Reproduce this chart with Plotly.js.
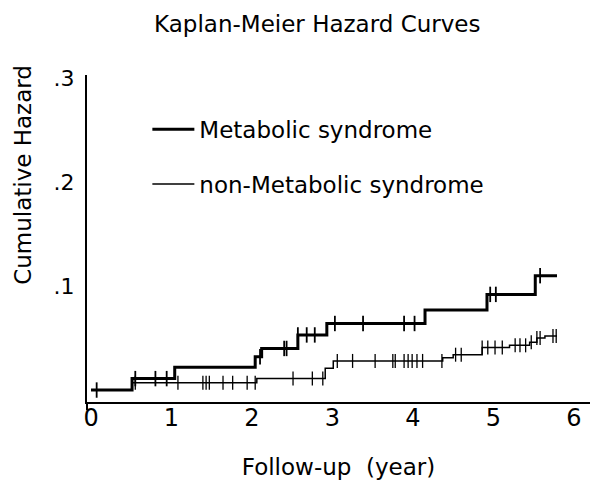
<!DOCTYPE html>
<html>
<head>
<meta charset="utf-8">
<script src="https://cdn.plot.ly/plotly-3.0.1.min.js"></script>
<style>html,body{margin:0;padding:0;background:#fff;}#chart{width:592px;height:480px;}</style>
</head>
<body>
<div id="chart"></div>
<script>
// Step curves (time in years, cumulative hazard)
var metsTimes  = [0, 0.51, 1.04, 2.04, 2.12, 2.57, 2.93, 4.15, 4.92, 5.52, 5.79];
var metsHazard = [0, 0.011, 0.022, 0.032, 0.040, 0.053, 0.064, 0.077, 0.092, 0.110, 0.110];
var nonTimes   = [0, 0.51, 2.06, 2.91, 3.01, 4.37, 4.50, 4.86, 5.20, 5.45, 5.54, 5.64, 5.79];
var nonHazard  = [0, 0.007, 0.011, 0.021, 0.028, 0.031, 0.034, 0.041, 0.043, 0.046, 0.050, 0.052, 0.052];
// Censored observations (time in years)
var metsCensor = [0.07, 0.55, 0.80, 0.94, 2.10, 2.40, 2.43, 2.57, 2.68, 2.78, 3.03, 3.38, 3.89, 4.02, 4.96, 5.03, 5.58];
var nonCensor  = [0.55, 1.08, 1.39, 1.43, 1.47, 1.64, 1.76, 1.94, 2.04, 2.51, 2.75, 2.88, 3.06, 3.25, 3.53, 3.75, 3.78, 3.89, 3.94, 3.99, 4.05, 4.12, 4.36, 4.53, 4.60, 4.86, 4.93, 5.02, 5.11, 5.27, 5.33, 5.40, 5.47, 5.54, 5.58, 5.74, 5.78];
// Axis ticks and texts
var xTickVals = [0, 1, 2, 3, 4, 5, 6];
var xTickText = ['0', '1', '2', '3', '4', '5', '6'];
var yTickVals = [0.1, 0.2, 0.3];
var yTickText = ['.1', '.2', '.3'];
var seriesNames = ['Metabolic syndrome', 'non-Metabolic syndrome'];
var chartTitle = 'Kaplan-Meier Hazard Curves';
var xTitle = 'Follow-up\u00a0 (year)';
var yTitle = 'Cumulative Hazard';

function stepAt(times, vals, t) {
  var v = vals[0];
  for (var i = 0; i < times.length; i++) { if (times[i] <= t) v = vals[i]; }
  return v;
}

var FONT = 'DejaVu Sans, sans-serif';
var traces = [
  {x: metsTimes, y: metsHazard, mode: 'lines', line: {shape: 'hv', color: '#000', width: 3},
   name: seriesNames[0], legendgroup: 'a'},
  {x: nonTimes, y: nonHazard, mode: 'lines', line: {shape: 'hv', color: '#000', width: 1.5},
   name: seriesNames[1], legendgroup: 'b'},
  {x: metsCensor, y: metsCensor.map(function(t){return stepAt(metsTimes, metsHazard, t);}),
   mode: 'markers', showlegend: false, hoverinfo: 'skip',
   marker: {symbol: 'line-ns-open', size: 11, color: '#000', line: {color: '#000', width: 1.8}}},
  {x: nonCensor, y: nonCensor.map(function(t){return stepAt(nonTimes, nonHazard, t);}),
   mode: 'markers', showlegend: false, hoverinfo: 'skip',
   marker: {symbol: 'line-ns-open', size: 10, color: '#000', line: {color: '#000', width: 1.3}}}
];

var layout = {
  width: 592, height: 480,
  margin: {l: 87, r: 2, t: 75, b: 78},
  paper_bgcolor: '#fff', plot_bgcolor: '#fff',
  font: {family: FONT, color: '#000', size: 23},
  title: {text: chartTitle, font: {family: FONT, size: 23, color: '#000'},
          xref: 'container', x: 0.536, xanchor: 'center', yref: 'container', y: 0.95, yanchor: 'middle'},
  xaxis: {range: [-0.05, 6.2], showline: true, linecolor: '#000', linewidth: 2, showgrid: false,
          zeroline: false, ticks: '', tickvals: xTickVals, ticktext: xTickText,
          tickfont: {family: FONT, size: 24, color: '#000'}, ticklabelstandoff: -7,
          title: {text: xTitle, font: {family: FONT, size: 23, color: '#000'}, standoff: 30}},
  yaxis: {range: [-0.0115, 0.303], showline: true, linecolor: '#000', linewidth: 2, showgrid: false,
          zeroline: false, ticks: '', tickvals: yTickVals, ticktext: yTickText,
          tickfont: {family: FONT, size: 22, color: '#000'}, ticklabelstandoff: 6},
  annotations: [
    {text: yTitle, textangle: -90, xref: 'paper', yref: 'paper', x: -0.127, y: 0.695,
     xanchor: 'center', yanchor: 'middle', showarrow: false,
     font: {family: FONT, size: 23, color: '#000'}}
  ],
  showlegend: true,
  legend: {x: 0.12, xanchor: 'left', y: 0.9, yanchor: 'top', bgcolor: 'rgba(0,0,0,0)',
           font: {family: FONT, size: 23, color: '#000'}, traceorder: 'grouped', tracegroupgap: 22,
           itemwidth: 42},
  shapes: [
    {type: 'line', xref: 'paper', yref: 'paper', x0: 0, x1: 0, y0: 0, y1: -0.025,
     line: {color: '#000', width: 2}}
  ]
};

Plotly.newPlot('chart', traces, layout, {displayModeBar: false, staticPlot: true});
</script>
</body>
</html>
